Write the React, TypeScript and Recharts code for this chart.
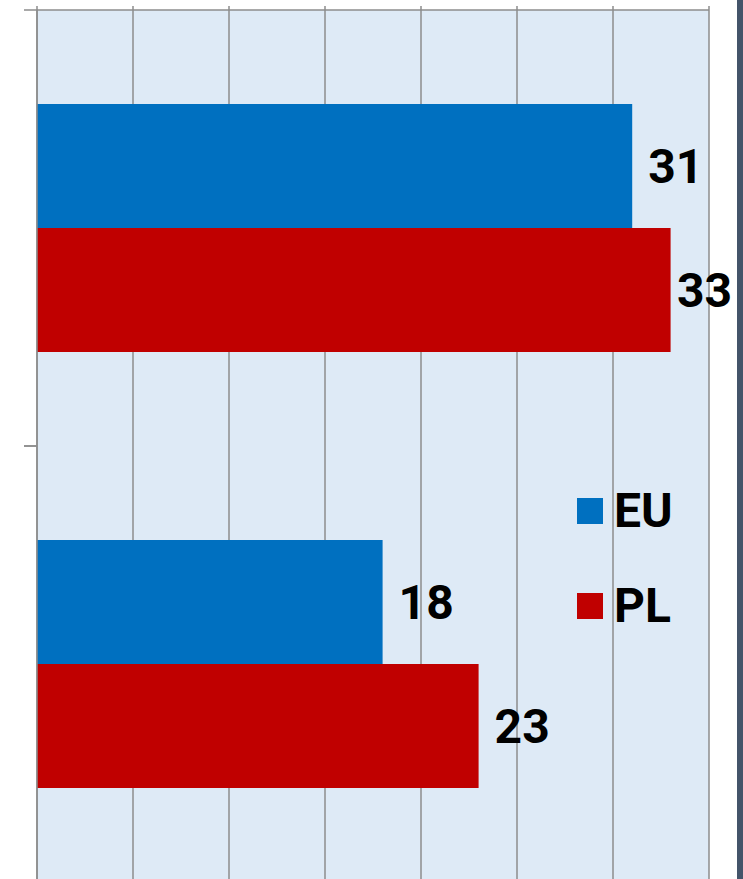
import { BarChart, Bar, XAxis, YAxis, CartesianGrid, Legend, LabelList } from "recharts";

const categories = ["Kategoria 1", "Kategoria 2"];
const euValues = [31, 18];
const plValues = [33, 23];
const xTicks = [0, 5, 10, 15, 20, 25, 30, 35];

const data = categories.map((name, i) => ({ name, EU: euValues[i], PL: plValues[i] }));

const FONT = "Roboto, 'Noto Sans', sans-serif";
const GRID = "#8c8c8c";
const PLOT_H = 872;

// keep the label inside the frame when the bar is too long (the 33 case)
const renderLabel = (props: any) => {
  const { x, y, width, height, value } = props;
  let tx = Number(x) + Number(width) + 16;
  let anchor: "start" | "end" = "start";
  if (tx + 54 > 732) {
    tx = 732;
    anchor = "end";
  }
  return (
    <text
      x={tx}
      y={Number(y) + Number(height) / 2}
      dominantBaseline="central"
      textAnchor={anchor}
      fontFamily={FONT}
      fontWeight={700}
      fontSize={48}
      fill="#000"
    >
      {value}
    </text>
  );
};

// category ticks sit on the band edges, not the centres
const renderCatTick = (props: any) => {
  const { x, y } = props;
  const half = PLOT_H / categories.length / 2;
  return (
    <g>
      <line x1={x - 13} x2={x} y1={y - half} y2={y - half} stroke={GRID} strokeWidth={1.5} />
      <line x1={x - 13} x2={x} y1={y + half} y2={y + half} stroke={GRID} strokeWidth={1.5} />
    </g>
  );
};

const emptyTick = () => <g />;

const renderLegend = (props: any) => {
  const { payload } = props;
  return (
    <div>
      {(payload || []).map((item: any) => (
        <div key={item.value} style={{ height: 95, display: "flex", alignItems: "center" }}>
          <span style={{ width: 26, height: 26, background: item.color, display: "inline-block", marginRight: 11 }} />
          <span style={{ fontFamily: FONT, fontWeight: 700, fontSize: 48, color: "#000", lineHeight: 1 }}>
            {item.value}
          </span>
        </div>
      ))}
    </div>
  );
};

export default function App() {
  return (
    <div style={{ position: "relative", width: 743, height: 879, overflow: "hidden", background: "#fff" }}>
      <style>{"body{margin:0;overflow:hidden}"}</style>
      <div style={{ position: "absolute", left: 0, top: 0 }}>
        <BarChart
          width={743}
          height={892}
          data={data}
          layout="vertical"
          margin={{ top: 9, right: 34, bottom: 10, left: 36 }}
          barGap={0}
        >
          <CartesianGrid horizontal={false} stroke={GRID} strokeWidth={1.5} fill="#DEEAF6" />
          <XAxis
            type="number"
            orientation="top"
            domain={[0, 35]}
            ticks={xTicks}
            height={1}
            tickSize={4}
            tick={emptyTick}
            axisLine={{ stroke: GRID, strokeWidth: 1.5 }}
            tickLine={{ stroke: GRID, strokeWidth: 1.5 }}
          />
          <YAxis
            type="category"
            dataKey="name"
            width={1}
            tickSize={0}
            tickMargin={0}
            tick={renderCatTick}
            tickLine={false}
            axisLine={{ stroke: GRID, strokeWidth: 1.5 }}
          />
          <Legend
            layout="vertical"
            align="center"
            verticalAlign="middle"
            content={renderLegend}
            wrapperStyle={{ left: 577, top: 463, width: 120, height: 190 }}
          />
          <Bar dataKey="EU" fill="#0070C0" barSize={124} isAnimationActive={false}>
            <LabelList dataKey="EU" content={renderLabel} />
          </Bar>
          <Bar dataKey="PL" fill="#C00000" barSize={124} isAnimationActive={false}>
            <LabelList dataKey="PL" content={renderLabel} />
          </Bar>
        </BarChart>
      </div>
      <div style={{ position: "absolute", left: 737, top: 0, width: 6, height: 879, background: "#44546A" }} />
    </div>
  );
}
